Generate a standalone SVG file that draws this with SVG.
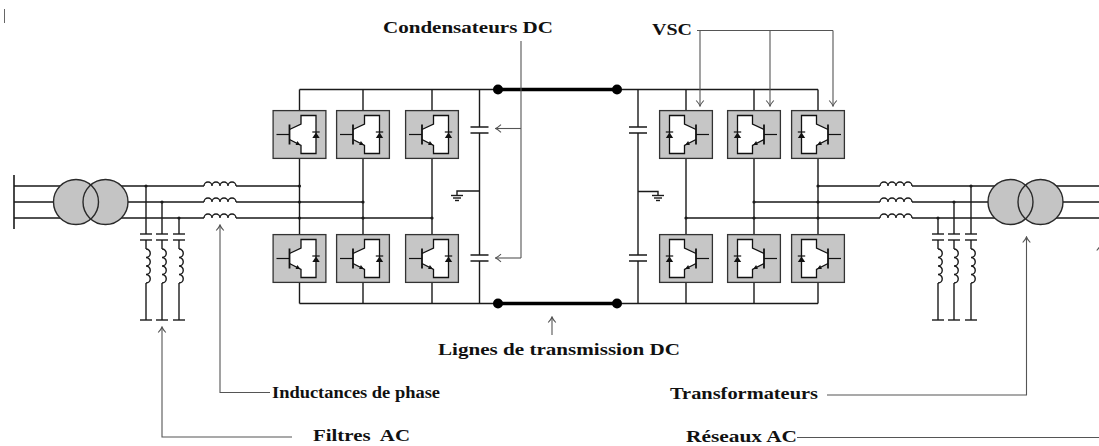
<svg xmlns="http://www.w3.org/2000/svg" xmlns:xlink="http://www.w3.org/1999/xlink" width="1099" height="446" viewBox="0 0 1099 446">
<style>
.w{fill:none;stroke:#1a1a1a;stroke-width:1.4}
.bus{fill:none;stroke:#1a1a1a;stroke-width:1.6}
.dc{fill:none;stroke:#000;stroke-width:3.5}
.ann{fill:none;stroke:#555;stroke-width:1.1}
.trf{fill:#c4c4c4;stroke:none}
.tro{fill:none;stroke:#2a2a2a;stroke-width:1.4}
.dot{fill:#000}
.jn{fill:#1a1a1a}
.lbl{font-family:"Liberation Serif","Times New Roman",serif;font-weight:bold;font-size:17px;fill:#111}
</style>
<defs>
<marker id="ah" viewBox="-7 -5 8 10" refX="0" refY="0" markerWidth="8" markerHeight="10" orient="auto" markerUnits="userSpaceOnUse">
<path d="M-5.5,-3.8 Q-2,-0.6 0,0 Q-2,0.6 -5.5,3.8" fill="none" stroke="#555" stroke-width="1.1"/>
</marker>
<g id="igbt">
<rect x="0.6" y="0.6" width="52.8" height="47.8" fill="#c6c6c6" stroke="#333" stroke-width="1.3"/>
<line x1="4" y1="24.5" x2="17" y2="24.5" stroke="#111" stroke-width="1.2"/>
<path d="M17,19.5 L28.5,14 V5.5 H43.5 V43.5 H28.5 V35.5 L17,29.5" fill="#fff" stroke="#111" stroke-width="1.3"/>
<line x1="17" y1="14.5" x2="17" y2="34.5" stroke="#111" stroke-width="1.8"/>
<polygon points="27.8,35 23.1,34.9 24.9,31.1" fill="#111"/>
<polygon points="39.8,28 47.2,28 43.5,22.5" fill="#111"/>
<line x1="39.8" y1="22" x2="47.2" y2="22" stroke="#111" stroke-width="1.2"/>
</g>
<path id="vcoil" d="M0,0 a4.25,4.25 0 0 1 0,8.5 a4.25,4.25 0 0 1 0,8.5 a4.25,4.25 0 0 1 0,8.5 a4.25,4.25 0 0 1 0,8.5" fill="none" stroke="#1a1a1a" stroke-width="1.4"/>
<path id="hcoil" d="M0,0 a4,4 0 0 1 8,0 a4,4 0 0 1 8,0 a4,4 0 0 1 8,0 a4,4 0 0 1 8,0" fill="none" stroke="#1a1a1a" stroke-width="1.4"/>
<g id="filt">
<line x1="-6" y1="234" x2="6" y2="234" class="w" stroke-width="1.8"/>
<line x1="-6" y1="240" x2="6" y2="240" class="w" stroke-width="1.8"/>
<line x1="0" y1="240" x2="0" y2="249" class="w"/>
<use xlink:href="#vcoil" href="#vcoil" x="0" y="249"/>
<line x1="0" y1="283" x2="0" y2="320" class="w"/>
<line x1="-6" y1="320" x2="6" y2="320" class="w" stroke-width="1.6"/>
</g>
<g id="gnd">
<line x1="-6" y1="0" x2="6" y2="0" class="w"/>
<line x1="-4" y1="2.5" x2="4" y2="2.5" class="w"/>
<line x1="-2" y1="5" x2="2" y2="5" class="w"/>
</g>
</defs>

<rect x="0" y="0" width="1099" height="446" fill="#fff"/>
<line x1="4.5" y1="9" x2="4.5" y2="23" stroke="#666" stroke-width="1"/>

<g id="connectors">
<line x1="14" y1="175" x2="14" y2="229" class="bus"/>
<path class="w" d="M14,186 H204 M236,186 H299.5"/>
<path class="w" d="M14,202 H204 M236,202 H363"/>
<path class="w" d="M14,218 H204 M236,218 H432"/>
<path class="w" d="M146,186 V234 M162,202 V234 M179,218 V234"/>
<path class="w" d="M299.5,89.5 H498 M299.5,303.5 H498"/>
<path class="w" d="M299.5,89.5 V303.5 M363,89.5 V303.5 M432,89.5 V303.5"/>
<path class="w" d="M479.5,89.5 V127 M479.5,133 V255 M479.5,261 V303.5"/>
<path class="w" d="M479.5,191 H457 V195.5"/>
<path class="dc" d="M498,89.5 H617 M498,303.5 H617"/>
<path class="w" d="M617,89.5 H818 M617,303.5 H818"/>
<path class="w" d="M686,89.5 V303.5 M754,89.5 V303.5 M818,89.5 V303.5"/>
<path class="w" d="M638,89.5 V127 M638,133 V255 M638,261 V303.5"/>
<path class="w" d="M638,191.5 H658 V195.5"/>
<path class="w" d="M818,186 H880 M912,186 H1099"/>
<path class="w" d="M754,202 H880 M912,202 H1099"/>
<path class="w" d="M686,218 H880 M912,218 H1099"/>
<path class="w" d="M971,186 V234 M954,202 V234 M938,218 V234"/>
<circle class="jn" cx="299.5" cy="186" r="1.6"/><circle class="jn" cx="299.5" cy="202" r="1.6"/><circle class="jn" cx="299.5" cy="218" r="1.6"/>
<circle class="jn" cx="363" cy="202" r="1.6"/><circle class="jn" cx="363" cy="218" r="1.6"/><circle class="jn" cx="432" cy="218" r="1.6"/>
<circle class="jn" cx="818" cy="186" r="1.6"/><circle class="jn" cx="754" cy="202" r="1.6"/><circle class="jn" cx="818" cy="202" r="1.6"/>
<circle class="jn" cx="686" cy="218" r="1.6"/><circle class="jn" cx="754" cy="218" r="1.6"/><circle class="jn" cx="818" cy="218" r="1.6"/>
<circle class="jn" cx="146" cy="186" r="1.6"/><circle class="jn" cx="162" cy="202" r="1.6"/><circle class="jn" cx="179" cy="218" r="1.6"/>
<circle class="jn" cx="971" cy="186" r="1.6"/><circle class="jn" cx="954" cy="202" r="1.6"/><circle class="jn" cx="938" cy="218" r="1.6"/>
<path class="ann" d="M521,41 V258"/>
<path class="ann" d="M521,128.5 H495.5" marker-end="url(#ah)"/>
<path class="ann" d="M521,258 H495.5" marker-end="url(#ah)"/>
<path class="ann" d="M697,30.5 H833"/>
<path class="ann" d="M700,30.5 V106" marker-end="url(#ah)"/>
<path class="ann" d="M770,30.5 V106" marker-end="url(#ah)"/>
<path class="ann" d="M833,30.5 V106" marker-end="url(#ah)"/>
<path class="ann" d="M552,335 V317" marker-end="url(#ah)"/>
<path class="ann" d="M270,392.5 H220 V225" marker-end="url(#ah)"/>
<path class="ann" d="M292,437 H162 V327" marker-end="url(#ah)"/>
<path class="ann" d="M827,395 H1026.5 V237" marker-end="url(#ah)"/>
<path class="ann" d="M797,437.5 H1100.5 V245" marker-end="url(#ah)"/>
</g>

<g id="transfo-left">
<circle class="trf" cx="76" cy="202" r="22.5"/>
<circle class="trf" cx="105.5" cy="202" r="22.5"/>
<circle class="tro" cx="76" cy="202" r="22.5"/>
<circle class="tro" cx="105.5" cy="202" r="22.5"/>
</g>
<g id="filtres-left">
<use xlink:href="#filt" href="#filt" x="146" y="0"/>
<use xlink:href="#filt" href="#filt" x="162" y="0"/>
<use xlink:href="#filt" href="#filt" x="179" y="0"/>
</g>
<g id="inductances-left">
<use xlink:href="#hcoil" href="#hcoil" x="204" y="186"/>
<use xlink:href="#hcoil" href="#hcoil" x="204" y="202"/>
<use xlink:href="#hcoil" href="#hcoil" x="204" y="218"/>
</g>
<g id="vsc-left">
<use xlink:href="#igbt" href="#igbt" x="272.5" y="110"/>
<use xlink:href="#igbt" href="#igbt" x="336" y="110"/>
<use xlink:href="#igbt" href="#igbt" x="405" y="110"/>
<use xlink:href="#igbt" href="#igbt" x="272.5" y="234"/>
<use xlink:href="#igbt" href="#igbt" x="336" y="234"/>
<use xlink:href="#igbt" href="#igbt" x="405" y="234"/>
</g>
<g id="condensateurs-left">
<path class="w" stroke-width="1.9" d="M470.5,127 H488.5 M470.5,133 H488.5 M470.5,255 H488.5 M470.5,261 H488.5"/>
<use xlink:href="#gnd" href="#gnd" x="457" y="195.5"/>
</g>
<g id="lignes-dc">
<circle class="dot" cx="498" cy="89.5" r="5"/>
<circle class="dot" cx="617" cy="89.5" r="5"/>
<circle class="dot" cx="498" cy="303.5" r="5"/>
<circle class="dot" cx="617" cy="303.5" r="5"/>
</g>
<g id="condensateurs-right">
<path class="w" stroke-width="1.9" d="M629,127 H647 M629,133 H647 M629,255 H647 M629,261 H647"/>
<use xlink:href="#gnd" href="#gnd" x="658" y="195.5"/>
</g>
<g id="vsc-right">
<use xlink:href="#igbt" href="#igbt" transform="translate(713,110) scale(-1,1)"/>
<use xlink:href="#igbt" href="#igbt" transform="translate(781,110) scale(-1,1)"/>
<use xlink:href="#igbt" href="#igbt" transform="translate(845,110) scale(-1,1)"/>
<use xlink:href="#igbt" href="#igbt" transform="translate(713,234) scale(-1,1)"/>
<use xlink:href="#igbt" href="#igbt" transform="translate(781,234) scale(-1,1)"/>
<use xlink:href="#igbt" href="#igbt" transform="translate(845,234) scale(-1,1)"/>
</g>
<g id="inductances-right">
<use xlink:href="#hcoil" href="#hcoil" x="880" y="186"/>
<use xlink:href="#hcoil" href="#hcoil" x="880" y="202"/>
<use xlink:href="#hcoil" href="#hcoil" x="880" y="218"/>
</g>
<g id="filtres-right">
<use xlink:href="#filt" href="#filt" x="938" y="0"/>
<use xlink:href="#filt" href="#filt" x="954" y="0"/>
<use xlink:href="#filt" href="#filt" x="971" y="0"/>
</g>
<g id="transfo-right">
<circle class="trf" cx="1010.5" cy="202" r="22.5"/>
<circle class="trf" cx="1040.5" cy="202" r="22.5"/>
<circle class="tro" cx="1010.5" cy="202" r="22.5"/>
<circle class="tro" cx="1040.5" cy="202" r="22.5"/>
</g>

<g id="labels">
<text class="lbl" x="383" y="33" textLength="170" lengthAdjust="spacingAndGlyphs">Condensateurs DC</text>
<text class="lbl" x="652" y="35" textLength="40" lengthAdjust="spacingAndGlyphs">VSC</text>
<text class="lbl" x="438" y="355" textLength="242" lengthAdjust="spacingAndGlyphs">Lignes de transmission DC</text>
<text class="lbl" x="272" y="398" textLength="168" lengthAdjust="spacingAndGlyphs">Inductances de phase</text>
<text class="lbl" x="313" y="441" textLength="97" lengthAdjust="spacingAndGlyphs" xml:space="preserve">Filtres  AC</text>
<text class="lbl" x="670" y="399" textLength="148" lengthAdjust="spacingAndGlyphs">Transformateurs</text>
<text class="lbl" x="686" y="442" textLength="111" lengthAdjust="spacingAndGlyphs">Réseaux AC</text>
</g>
</svg>
